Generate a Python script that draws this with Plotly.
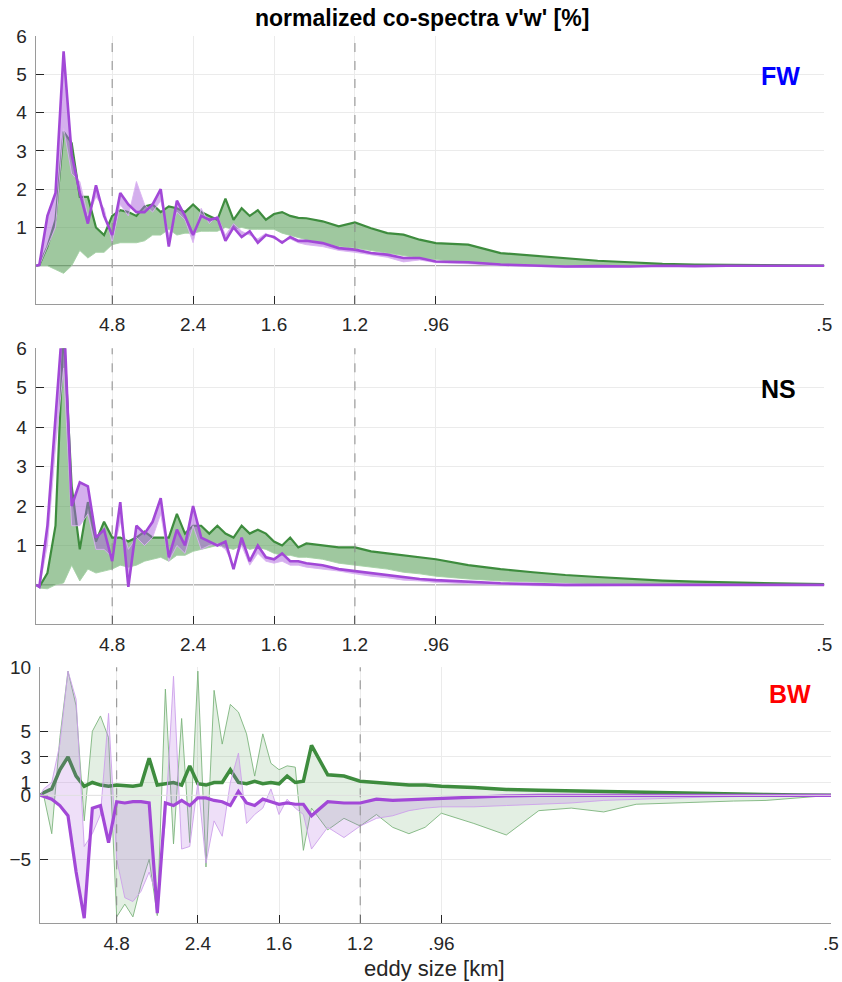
import plotly.graph_objects as go

# ---------------- data ----------------
# spectral index n ; eddy size = 48 / n km  -> wavenumber = n / 48 (1/km)
N_IDX = [0.6] + list(range(1, 34)) + list(range(34, 51, 2)) + list(range(54, 99, 4))
SIZE_SCALE_KM = 48.0
WAVENUMBER = [n / SIZE_SCALE_KM for n in N_IDX]

TICK_SIZE_KM = [4.8, 2.4, 1.6, 1.2, 0.96, 48.0 / 98]
TICK_LABELS = ["4.8", "2.4", "1.6", "1.2", ".96", ".5"]
DASHED_SIZE_KM = [4.8, 1.2]

# Panel FW
fw_green_dark = [0,
    0.02, 0.5, 1.2, 3.5, 3.2, 1.8, 1.8, 1.0, 0.8, 1.3,
    1.45, 1.4, 1.3, 1.55, 1.6, 1.4, 1.55, 1.5, 1.4, 1.6,
    1.4, 1.3, 1.2, 1.75, 1.2, 1.5, 1.3, 1.45, 1.2, 1.35,
    1.4, 1.3, 1.25,
    1.24, 1.16, 1.03, 1.13, 0.98, 0.85, 0.81, 0.68, 0.59,
    0.55, 0.33, 0.26, 0.19, 0.13, 0.09, 0.05, 0.03, 0.02, 0.01, 0.01, 0.0]
fw_green_light = [0,
    0.0, 0.0, -0.1, -0.2, 0.0, 0.4, 0.2, 0.35, 0.35, 0.55,
    0.6, 0.6, 0.6, 0.65, 0.8, 0.8, 0.95, 0.8, 0.85, 0.85,
    0.9, 0.9, 0.9, 1.0, 0.95, 1.0, 0.95, 0.95, 0.95, 0.95,
    0.85, 0.8, 0.75,
    0.68, 0.6, 0.5, 0.46, 0.4, 0.33, 0.27, 0.2, 0.16,
    0.07, 0.03, 0.02, 0.0, 0.0, -0.01, 0.0, 0.0, 0.0, 0.0, 0.0, 0.0]
fw_purple_dark = [0,
    0.02, 1.3, 1.9, 5.6, 2.9, 1.9, 1.1, 2.1, 1.3, 0.8,
    1.9, 1.6, 1.4, 1.4, 1.6, 2.0, 0.5, 1.7, 1.3, 0.8,
    1.3, 1.2, 1.25, 0.65, 1.0, 0.75, 0.9, 0.6, 0.8, 0.75,
    0.6, 0.75, 0.65,
    0.65, 0.59, 0.46, 0.42, 0.33, 0.29, 0.2, 0.2, 0.11,
    0.09, 0.03, 0.0, -0.02, -0.01, -0.02, 0.0, -0.01, 0.0, 0.0, 0.0, 0.0]
fw_purple_light = [0,
    0.0, 0.5, 1.0, 3.6, 2.4, 2.2, 1.3, 1.8, 1.5, 0.6,
    1.6, 1.3, 2.2, 1.6, 1.4, 1.7, 0.8, 1.4, 1.2, 0.6,
    1.5, 1.1, 1.3, 0.8, 1.1, 0.9, 0.8, 0.7, 0.85, 0.7,
    0.65, 0.7, 0.6,
    0.55, 0.5, 0.4, 0.35, 0.28, 0.22, 0.1, 0.15, 0.08,
    0.05, 0.0, -0.02, -0.04, -0.03, -0.03, -0.02, -0.01, 0.0, 0.0, 0.0, 0.0]

# Panel NS
ns_green_dark = [0,
    -0.05, 0.3, 1.5, 6.5, 2.5, 0.9, 2.1, 1.1, 1.6, 1.2,
    1.2, 1.1, 1.2, 1.35, 1.2, 1.2, 1.2, 1.8, 1.3, 1.5,
    1.5, 1.3, 1.5, 1.3, 1.2, 1.5, 1.3, 1.4, 1.3, 1.1,
    1.0, 1.2, 0.95,
    1.05, 1.0, 0.95, 0.95, 0.85, 0.8, 0.75, 0.7, 0.65,
    0.5, 0.4, 0.32, 0.25, 0.2, 0.15, 0.11, 0.08, 0.06, 0.04, 0.03, 0.02]
ns_green_light = [0,
    -0.08, -0.1, 0.0, 0.05, 0.5, 0.1, 0.4, 0.3, 0.35, 0.4,
    0.5, 0.45, 0.5, 0.6, 0.65, 0.7, 0.6, 0.75, 0.75, 0.85,
    0.9, 0.95, 1.0, 0.95, 0.9, 1.0, 0.9, 0.95, 0.9, 0.8,
    0.75, 0.75, 0.7,
    0.7, 0.65, 0.55, 0.5, 0.45, 0.4, 0.32, 0.28, 0.22,
    0.15, 0.1, 0.07, 0.05, 0.03, 0.02, 0.01, 0.01, 0.0, 0.0, 0.0, 0.0]
ns_purple_dark = [0,
    -0.05, 1.5, 4.3, 7.0, 2.0, 2.6, 2.5, 1.2, 1.4, 0.6,
    2.1, -0.05, 1.5, 1.3, 1.6, 2.2, 0.7, 1.4, 1.0, 2.0,
    1.2, 1.1, 1.0, 1.1, 0.4, 1.2, 0.6, 1.0, 0.7, 0.65,
    0.8, 0.6, 0.6,
    0.55, 0.5, 0.4, 0.35, 0.3, 0.25, 0.2, 0.15, 0.12,
    0.08, 0.04, 0.02, 0.0, 0.0, 0.0, 0.0, 0.0, 0.0, 0.0, 0.0, 0.0]
ns_purple_light = [0,
    -0.08, 1.0, 3.5, 5.5, 1.5, 1.5, 1.8, 0.9, 0.9, 0.7,
    1.6, 0.9, 1.2, 1.0, 1.2, 1.8, 0.6, 1.0, 0.8, 1.5,
    0.9, 1.0, 1.05, 0.9, 0.5, 1.0, 0.5, 0.8, 0.6, 0.55,
    0.6, 0.5, 0.5,
    0.45, 0.4, 0.35, 0.28, 0.22, 0.18, 0.12, 0.1, 0.06,
    0.03, 0.0, -0.02, -0.03, -0.02, -0.01, 0.0, 0.0, 0.0, 0.0, 0.0, 0.0]

# Panel BW
bw_green_dark = [0,
    0.2, 0.5, 2.0, 3.0, 1.5, 0.7, 1.0, 0.8, 0.7, 0.8,
    0.75, 0.7, 0.8, 2.9, 0.8, 0.9, 1.0, 0.8, 2.3, 0.9,
    0.8, 1.0, 1.0, 2.0, 1.0, 0.9, 1.1, 0.9, 1.0, 0.9,
    1.5, 1.0, 1.1,
    3.9, 1.6, 1.5, 1.1, 1.0, 0.9, 0.8, 0.8, 0.7,
    0.6, 0.45, 0.4, 0.35, 0.3, 0.2, 0.18, 0.12, 0.1, 0.06, 0.03, 0.0]
bw_green_light = [0,
    0.0, -3.0, 4.5, 9.7, 7.0, -2.0, 5.0, 6.2, 4.5, -9.5,
    -8.5, -9.5, -7.0, -5.0, -9.4, 8.3, -3.8, 6.0, -3.7, 9.7,
    -5.6, 8.2, 4.0, 7.1, 6.5, 4.8, 1.5, 4.8, 2.5, 2.0,
    2.3, 2.2, -4.3,
    -1.0, -2.7, -1.8, -2.4, -1.5, -2.5, -3.0, -2.5, -1.4,
    -2.2, -3.1, -1.2, -1.0, -1.3, -0.7, -0.6, -0.5, -0.45, -0.4, -0.2, 0.0]
bw_purple_dark = [0,
    -0.1, -0.3, -0.8, -1.6, -6.0, -9.6, -1.0, -0.8, -3.7, -0.5,
    -0.6, -0.5, -0.5, -0.6, -9.2, -0.6, -0.8, -0.4, -0.8, -0.2,
    -0.2, -0.4, -0.5, -0.8, 0.3, -0.6, -0.8, -0.3, -0.5, -0.7,
    -0.6, -0.7, -0.7,
    -1.6, -0.5, -0.6, -0.6, -0.3, -0.4, -0.35, -0.3, -0.2,
    -0.1, -0.05, 0.0, 0.0, 0.0, 0.0, 0.0, 0.0, 0.0, 0.0, 0.0, 0.0]
bw_purple_light = [0,
    0.5, 1.0, 4.0, 9.7, 7.5, -4.0, -3.0, -1.5, 6.4, -5.0,
    -8.0, -8.3, -7.5, -6.0, -8.0, -2.0, 9.3, -4.2, -4.0, 1.0,
    -5.3, -2.0, -3.2, 1.0, 3.3, -2.2, -1.5, -1.0, 0.5, -1.5,
    -0.3, -1.0, -1.5,
    -4.2, -2.5, -3.3, -2.4, -1.8, -1.6, -1.2, -1.0, -0.9,
    -0.9, -0.8, -0.7, -0.6, -0.4, -0.3, -0.2, -0.15, -0.1, -0.05, 0.0, 0.0]

PANELS = [
    ("FW", "#0000ff", fw_green_dark, fw_green_light, fw_purple_dark, fw_purple_light),
    ("NS", "#000000", ns_green_dark, ns_green_light, ns_purple_dark, ns_purple_light),
    ("BW", "#ff0000", bw_green_dark, bw_green_light, bw_purple_dark, bw_purple_light),
]

# ---------------- styling ----------------
W, H = 842, 982
FONT = "Liberation Sans, Arial, sans-serif"
TXT = "#262626"

X_DOM = [[35.7 / W, 824.3 / W], [35.7 / W, 824.3 / W], [40.0 / W, 831.0 / W]]
Y_DOM = [[1 - 304 / H, 1 - 36 / H], [1 - 624.3 / H, 1 - 348.3 / H], [1 - 923.3 / H, 1 - 667.3 / H]]
Y_RANGE = [[-1, 6], [-1, 6], [-10, 10]]
Y_TICKS = [[1, 2, 3, 4, 5, 6], [1, 2, 3, 4, 5, 6], [-5, 0, 1, 3, 5, 10]]
LABEL_POS = [(780, 76), (778, 389), (790, 694)]

G_DARK = "rgb(62,140,62)"
P_DARK = "rgb(162,72,215)"
STYLE = [
    # (green light line, green fill, green dark width, purple light line, purple fill, purple dark width)
    ("rgb(165,208,165)", "rgba(80,155,80,0.55)", 2.2, "rgb(218,178,242)", "rgba(170,95,220,0.5)", 2.6),
    ("rgb(165,208,165)", "rgba(80,155,80,0.55)", 2.2, "rgb(218,178,242)", "rgba(170,95,220,0.5)", 2.6),
    ("rgb(125,180,125)", "rgba(80,155,80,0.16)", 3.5, "rgb(205,160,235)", "rgba(170,95,220,0.2)", 3.2),
]

fig = go.Figure()
shapes = []
annotations = []
tick_wn = [1.0 / s for s in TICK_SIZE_KM]

for i, (name, ncol, gd, gl, pd_, pl) in enumerate(PANELS):
    sfx = "" if i == 0 else str(i + 1)
    xa, ya = "x" + sfx, "y" + sfx
    gline, gfill, gw, pline, pfill, pw = STYLE[i]
    fig.add_trace(go.Scatter(x=WAVENUMBER, y=gl, xaxis=xa, yaxis=ya, mode="lines",
                             line=dict(color=gline, width=0.9), showlegend=False, hoverinfo="skip"))
    fig.add_trace(go.Scatter(x=WAVENUMBER, y=gd, xaxis=xa, yaxis=ya, mode="lines",
                             line=dict(color=G_DARK, width=gw), fill="tonexty",
                             fillcolor=gfill, showlegend=False, hoverinfo="skip"))
    fig.add_trace(go.Scatter(x=WAVENUMBER, y=pl, xaxis=xa, yaxis=ya, mode="lines",
                             line=dict(color=pline, width=0.9), showlegend=False, hoverinfo="skip"))
    fig.add_trace(go.Scatter(x=WAVENUMBER, y=pd_, xaxis=xa, yaxis=ya, mode="lines",
                             line=dict(color=P_DARK, width=pw), fill="tonexty",
                             fillcolor=pfill, showlegend=False, hoverinfo="skip"))

    common = dict(showgrid=True, gridcolor="#ebebeb", gridwidth=1, zeroline=False,
                  showline=True, linecolor="#9a9a9a", linewidth=1, automargin=False,
                  ticks="inside", ticklen=8, tickcolor=TXT, tickwidth=1,
                  tickfont=dict(family=FONT, size=19, color=TXT))
    fig.update_layout(**{
        ("xaxis" + sfx): dict(common, domain=X_DOM[i], range=[0.0115, 2.0417], anchor=ya,
                             tickvals=tick_wn, ticktext=TICK_LABELS, ticklabelstandoff=3),
        ("yaxis" + sfx): dict(common, domain=Y_DOM[i], range=Y_RANGE[i], anchor=xa,
                             tickvals=Y_TICKS[i], ticklabelstandoff=4),
    })

    for s in DASHED_SIZE_KM:
        shapes.append(dict(type="line", xref=xa, yref=ya + " domain", x0=1 / s, x1=1 / s, y0=0, y1=1,
                           line=dict(color="#8c8c8c", width=1, dash="dash"), layer="above"))
    zcol = "#8c8c8c" if i < 2 else "#e3e3e3"
    shapes.append(dict(type="line", xref=xa + " domain", yref=ya, x0=0, x1=1, y0=0, y1=0,
                       line=dict(color=zcol, width=1), layer="below" if i < 2 else "above"))

    lx, ly = LABEL_POS[i]
    annotations.append(dict(text=f"<b>{name}</b>", x=lx / W, y=1 - ly / H, xref="paper", yref="paper",
                            showarrow=False, xanchor="center", yanchor="middle",
                            font=dict(family=FONT, size=25, color=ncol)))

annotations.append(dict(text="<b>normalized co-spectra v'w' [%]</b>", x=422 / W, y=1 - 18 / H,
                        xref="paper", yref="paper", showarrow=False, xanchor="center", yanchor="middle",
                        font=dict(family=FONT, size=23, color="#000000")))
annotations.append(dict(text="eddy size [km]", x=434 / W, y=1 - 968 / H,
                        xref="paper", yref="paper", showarrow=False, xanchor="center", yanchor="middle",
                        font=dict(family=FONT, size=22, color=TXT)))

fig.update_layout(width=W, height=H, margin=dict(l=0, r=0, t=0, b=0, autoexpand=False),
                  paper_bgcolor="white", plot_bgcolor="white",
                  shapes=shapes, annotations=annotations, showlegend=False)

fig.write_html("out.html")
